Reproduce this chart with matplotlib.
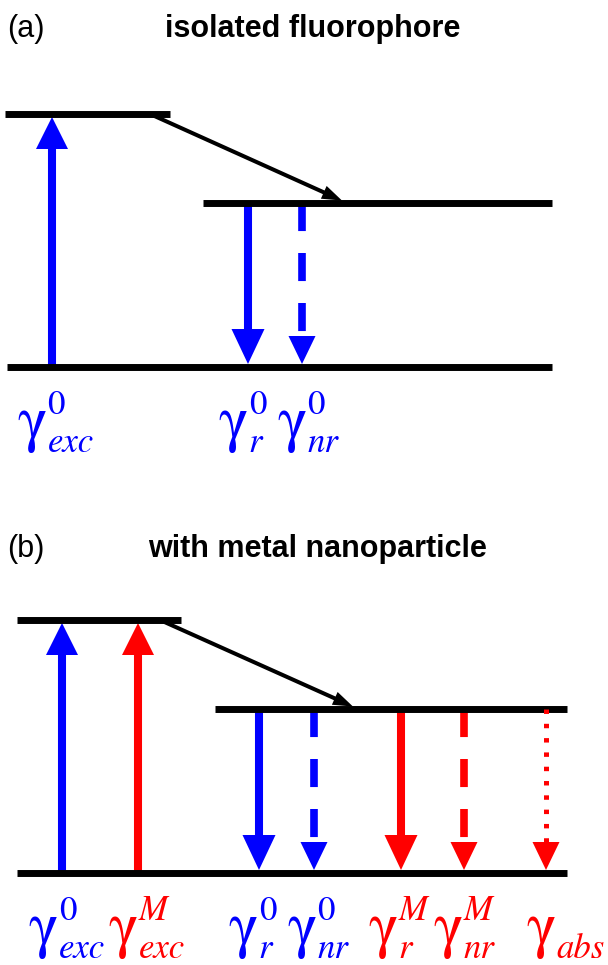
import numpy as np
import matplotlib
matplotlib.use("Agg")
import matplotlib.pyplot as plt

plt.rcParams['lines.scale_dashes'] = False

# energy levels of the fluorophore (excitation energy = 1)
E_GROUND = 0.0
E_RELAX = 0.65
E_EXCITED = 1.0

# horizontal extent of each level
levels_a = {E_EXCITED: (5, 170), E_RELAX: (203, 552), E_GROUND: (7, 552)}
levels_b = {E_EXCITED: (17, 181), E_RELAX: (215, 567), E_GROUND: (17, 567)}

# (a) isolated fluorophore: excitation, radiative and non-radiative decay
a_x = [52, 248, 302]
a_start = [E_GROUND, E_RELAX, E_RELAX]
a_end = [E_EXCITED, E_GROUND, E_GROUND]
a_kind = ['solid', 'solid', 'dashed']
a_metal = [False, False, False]
a_sup = ['0', '0', '0']
a_sub = ['exc', 'r', 'nr']
a_label_x = [17, 218, 277]

# (b) with metal nanoparticle: modified rates plus absorption by the metal
b_x = [62, 138, 259, 314, 401, 464, 546]
b_start = [E_GROUND, E_GROUND, E_RELAX, E_RELAX, E_RELAX, E_RELAX, E_RELAX]
b_end = [E_EXCITED, E_EXCITED, E_GROUND, E_GROUND, E_GROUND, E_GROUND, E_GROUND]
b_kind = ['solid', 'solid', 'solid', 'dashed', 'solid', 'dashed', 'dotted']
b_metal = [False, True, False, False, True, True, True]
b_sup = ['0', 'M', '0', '0', 'M', 'M', '']
b_sub = ['exc', 'exc', 'r', 'nr', 'r', 'nr', 'abs']
b_label_x = [28, 108, 228, 287, 368, 433, 526]

# internal relaxation arrow (start x on upper level, end x on lower level)
relax_a = (150, 342)
relax_b = (160, 353)

W, H = 608, 965
PX = 253.0   # pixels per energy unit
BLUE, RED = '#0000ff', '#ff0000'

STYLE = {
    'up':     dict(lw=5.8, dashes=None, hw=32, hh=32, z=2),
    'solid':  dict(lw=5.8, dashes=None, hw=33, hh=35, z=2),
    'dashed': dict(lw=5.5, dashes=(20.2, 15.8), hw=27, hh=28, z=2),
    'dotted': dict(lw=3.6, dashes=(3.2, 7.1), hw=27, hh=28, z=4),
}

fig = plt.figure(figsize=(W / 100, H / 100), dpi=100)
renderer = fig.canvas.get_renderer()


def panel(top_row, bottom_row, ground_row):
    ax = fig.add_axes([0, 1 - bottom_row / H, 1, (bottom_row - top_row) / H])
    ax.set_xlim(0, W)
    ax.set_ylim((ground_row - bottom_row) / PX, (ground_row - top_row) / PX)
    ax.axis('off')
    return ax


def draw_levels(ax, levels):
    for e, (x0, x1) in levels.items():
        ax.plot([x0, x1], [e, e], color='black', lw=5.0,
                solid_capstyle='butt', zorder=3)


def transition(ax, x, e0, e1, kind, color):
    st = STYLE['up' if e1 > e0 else kind]
    d = 1 if e1 > e0 else -1
    tip = e1 - d * 3 / PX
    base = tip - d * st['hh'] / PX
    stop = base if st['dashes'] else base + d * 2 / PX
    line, = ax.plot([x, x], [e0, stop], color=color, lw=st['lw'],
                    solid_capstyle='butt', dash_capstyle='butt', zorder=st['z'])
    if st['dashes']:
        line.set_dashes(st['dashes'])
    hw = st['hw'] / 2
    ax.fill([x - hw, x + hw, x], [base, base, tip], color=color, lw=0, zorder=st['z'])


def relaxation(ax, x0, x1):
    p0 = np.array([x0, E_EXCITED * PX])
    p1 = np.array([x1, E_RELAX * PX + 2])
    u = (p1 - p0) / np.hypot(*(p1 - p0))
    n = np.array([-u[1], u[0]])
    base = p1 - u * 20
    ax.plot([p0[0], base[0] + u[0] * 2], [p0[1] / PX, (base[1] + u[1] * 2) / PX],
            color='black', lw=2.9, solid_capstyle='butt', zorder=3)
    tri = np.array([base + n * 7, base - n * 7, p1])
    ax.fill(tri[:, 0], tri[:, 1] / PX, color='black', lw=0, zorder=3)


def rate_label(ax, x, sup, sub, color):
    serif = 'STIXGeneral'
    g = ax.text(x, -0.285, '\u03b3', fontsize=45, family=serif, color=color,
                ha='left', va='baseline')
    bb = g.get_window_extent(renderer)
    xr = ax.transData.inverted().transform((bb.x1, bb.y0))[0] + 1
    if sup:
        ax.text(xr, -0.186, sup, fontsize=25, family=serif, color=color,
                style='italic' if sup == 'M' else 'normal', va='baseline')
    ax.text(xr, -0.336, sub, fontsize=25, family=serif, color=color,
            style='italic', va='baseline')


def title(ax, y, tag, text, xc):
    ax.text(7, y, tag, fontsize=22, family='Liberation Sans', va='baseline')
    ax.text(xc, y, text, fontsize=22, family='Liberation Sans', weight='bold',
            ha='center', va='baseline')


# (a)
ax_a = panel(0, 482, 367)
title(ax_a, (367 - 37) / PX, '(a)', 'isolated fluorophore', 313)
draw_levels(ax_a, levels_a)
relaxation(ax_a, *relax_a)
for x, e0, e1, k, m in zip(a_x, a_start, a_end, a_kind, a_metal):
    transition(ax_a, x, e0, e1, k, RED if m else BLUE)
for x, sp, sb, m in zip(a_label_x, a_sup, a_sub, a_metal):
    rate_label(ax_a, x, sp, sb, RED if m else BLUE)

# (b)
ax_b = panel(482, 965, 873)
title(ax_b, (873 - 557) / PX, '(b)', 'with metal nanoparticle', 318)
draw_levels(ax_b, levels_b)
relaxation(ax_b, *relax_b)
for x, e0, e1, k, m in zip(b_x, b_start, b_end, b_kind, b_metal):
    transition(ax_b, x, e0, e1, k, RED if m else BLUE)
for x, sp, sb, m in zip(b_label_x, b_sup, b_sub, b_metal):
    rate_label(ax_b, x, sp, sb, RED if m else BLUE)

fig.savefig('out.png', dpi=100)
